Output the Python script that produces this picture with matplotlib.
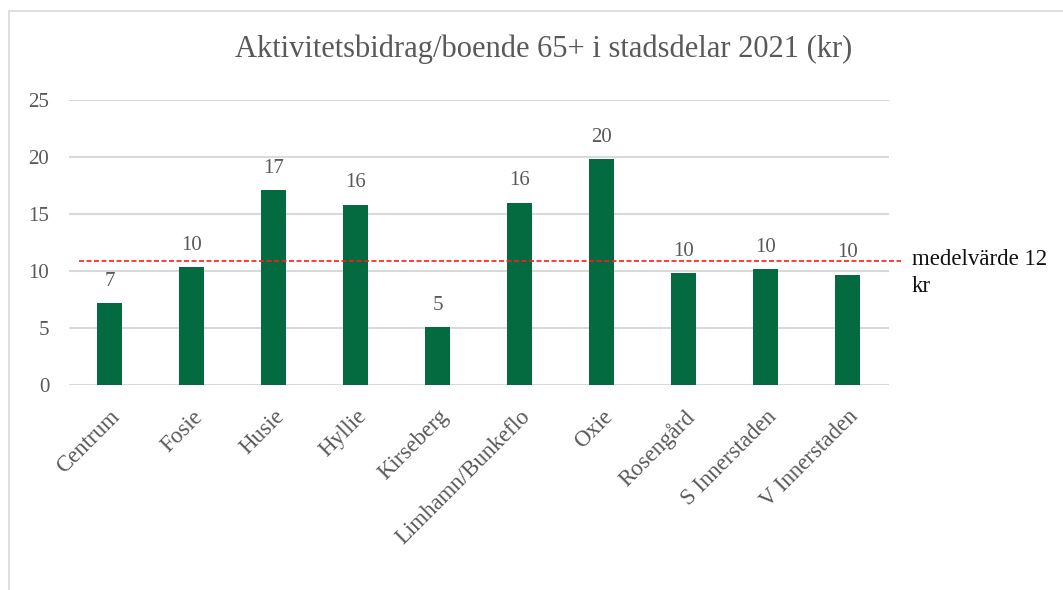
import matplotlib.pyplot as plt
from matplotlib.patches import Rectangle

# stadsdelar och värden (kr per boende 65+)
stadsdelar = ["Centrum", "Fosie", "Husie", "Hyllie", "Kirseberg",
              "Limhamn/Bunkeflo", "Oxie", "Rosengård", "S Innerstaden", "V Innerstaden"]
bidrag = [7.2, 10.35, 17.1, 15.8, 5.07, 16.0, 19.8, 9.8, 10.15, 9.7]
medel = 10.85
medel_text = "medelvärde 12\nkr"
yticks = [0, 5, 10, 15, 20, 25]

GREEN = "#046a3f"
GREY = "#595959"
plt.rcParams["font.family"] = ["Liberation Serif", "DejaVu Serif"]

fig = plt.figure(figsize=(10.63, 5.90), dpi=100)
fig.patches.append(Rectangle((9 / 1063, -0.05), 1.2, 1 - 11 / 590 + 0.05,
                             transform=fig.transFigure, fill=False,
                             edgecolor="#d9d9d9", lw=1.2))

ax = fig.add_axes([0.0646, 0.347, 0.7715, 0.4835])
x = list(range(len(stadsdelar)))
ax.bar(x, bidrag, width=0.31, color=GREEN, zorder=3)

for xi, v in zip(x, bidrag):
    ax.annotate(f"{v:.0f}", (xi, v), xytext=(0, 9), textcoords="offset points",
                ha="center", va="bottom", fontsize=15, color=GREY)

# medelvärdeslinje
ax.plot([-0.37, 9.65], [medel, medel], color="#ff1a1a", lw=1.2, ls=(0, (3, 1.5)),
        clip_on=False, zorder=4)
ax.text(9.78, medel + 1.1, medel_text, ha="left", va="top", fontsize=16.5,
        color="#111111", linespacing=1.35)

ax.set_xlim(-0.5, 9.5)
ax.set_ylim(0, 25)
ax.set_yticks(yticks)
ax.set_yticklabels([str(t) for t in yticks], fontsize=15, color=GREY)
ax.set_xticks(x)
ax.set_xticklabels(stadsdelar, rotation=45, ha="right", rotation_mode="anchor",
                   fontsize=16.5, color=GREY)
ax.tick_params(length=0, axis="y", pad=14)
ax.tick_params(length=0, axis="x", pad=15)
ax.grid(axis="y", color="#d9d9d9", lw=1.5, zorder=0)
for s in ax.spines.values():
    s.set_visible(False)

fig.text(544 / 1063, 1 - 49 / 590, "Aktivitetsbidrag/boende 65+ i stadsdelar 2021 (kr)",
         ha="center", va="center", fontsize=22, color=GREY)

fig.savefig("out.png", dpi=100)
